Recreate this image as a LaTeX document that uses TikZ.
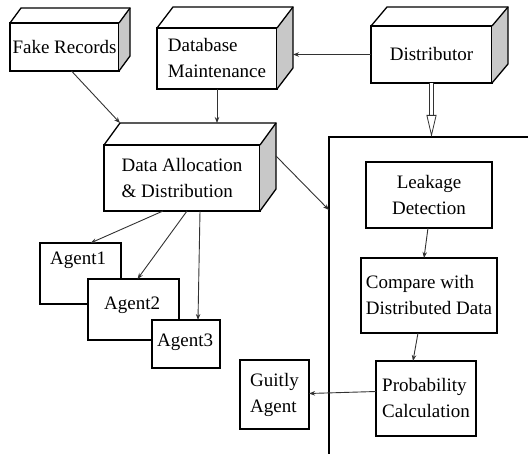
\documentclass[tikz,border=0pt]{standalone}
\usepackage{fontspec}
\setmainfont{Liberation Serif}
\usepackage{tikz}
\usetikzlibrary{arrows.meta, positioning, calc}
\definecolor{sidegray}{RGB}{200,200,200}
\definecolor{linkgray}{RGB}{50,50,50}

% shaded top and side faces behind a front box node
\newcommand{\cuboid}[3]{%
  \fill[sidegray] (#1.north east) -- ++(#2,#3) -- ($(#1.south east)+(#2,#3)$) -- (#1.south east) -- cycle;
  \draw[boxline] (#1.north west) -- ++(#2,#3) -- ($(#1.north east)+(#2,#3)$)
                 -- ($(#1.south east)+(#2,#3)$) -- (#1.south east);
  \draw[boxline] (#1.north east) -- ++(#2,#3);
  \coordinate (#1-bnw) at ($(#1.north west)+(#2,#3)$);
  \coordinate (#1-be)  at ($(#1.east)+(#2,#3)$);
}

\begin{document}
\begin{tikzpicture}[
  x=1pt, y=-1pt,
  font=\fontsize{19}{26}\selectfont,
  boxline/.style={line width=1.3pt, line join=miter},
  block/.style={draw, boxline, fill=white, rectangle, inner sep=0pt, outer sep=0pt},
  agent/.style={block},
  lbl/.style={inner sep=0pt, anchor=base west},
  link/.style={draw=linkgray, line width=0.9pt, -{Stealth[length=6pt, width=4.5pt]}},
  feed/.style={draw=linkgray, line width=0.8pt, double, double distance=2.6pt,
               -{Triangle[open, length=22pt, width=10pt]}},
  panel/.style={line width=1.2pt}
]
\useasboundingbox (0,0) rectangle (528,454);

%--- 3D boxes ---
\node[block, minimum width=109, minimum height=48] (fake)  at (64.5,47)  {Fake Records};
\cuboid{fake}{11}{-15}
\node[block, minimum width=120, minimum height=61, align=left]  (dbm)   at (217,58.5) {Database\\Maintenance};
\cuboid{dbm}{16}{-21}
\node[block, minimum width=121, minimum height=57] (dist)  at (431.5,54.5) {Distributor};
\cuboid{dist}{16}{-19}
\node[block, minimum width=156, minimum height=66, align=left]  (alloc) at (182,178)  {Data Allocation\\\& Distribution};
\cuboid{alloc}{16}{-22}

%--- Agents (stacked) ---
\node[agent, minimum width=81, minimum height=61,
      label={[lbl, xshift=10pt, yshift=-22pt]north west:Agent1}] (ag1) at (80.5,273.5) {};
\node[agent, minimum width=91, minimum height=61,
      label={[lbl, xshift=16pt, yshift=-31pt]north west:Agent2}] (ag2) at (133.5,309.5) {};
\node[agent, minimum width=68, minimum height=48,
      label={[lbl, xshift=5pt, yshift=-27pt]north west:Agent3}] (ag3) at (186,344) {};

%--- Detection side ---
\coordinate (panel) at (329,137);
\draw[panel] (329,454) -- (panel) -- (528,137);
\coordinate (pin) at (329,210);

\node[block, minimum width=126, minimum height=66, align=center] (leak) at (429,195)   {Leakage\\Detection};
\node[block, minimum width=136, minimum height=75, align=left]   (comp) at (429,295.5) {Compare with\\Distributed Data};
\node[block, minimum width=100, minimum height=75, align=left]   (prob) at (426,398.5) {Probability\\Calculation};
\node[block, minimum width=69,  minimum height=69, align=left]   (guilty) at (274.5,394.5) {Guitly\\Agent};

%--- Links ---
\draw[link] ([xshift=7pt]fake.south) -- (alloc-bnw);
\draw[link] (dbm.south) -- (dbm.south |- alloc-bnw);
\draw[link] (dist.west) -- (dist.west -| dbm-be);
\draw[feed] (dist.south) -- (dist.south |- panel);
\draw[link] (alloc-be) -- (pin);

\draw[link] ([xshift=-19pt]alloc.south) -- ([xshift=10pt]ag1.north);
\draw[link] ([xshift=5pt]alloc.south)   -- ([xshift=4pt]ag2.north);
\draw[link] ([xshift=18pt]alloc.south)  -- ([xshift=12pt]ag3.north);

\draw[link] ([xshift=-1pt]leak.south)  -- ([xshift=-5pt]comp.north);
\draw[link] ([xshift=-11pt]comp.south) -- ([xshift=-13pt]prob.north);
\draw[link] ([yshift=7pt]prob.west)    -- ([yshift=1pt]guilty.east);

\end{tikzpicture}
\end{document}
